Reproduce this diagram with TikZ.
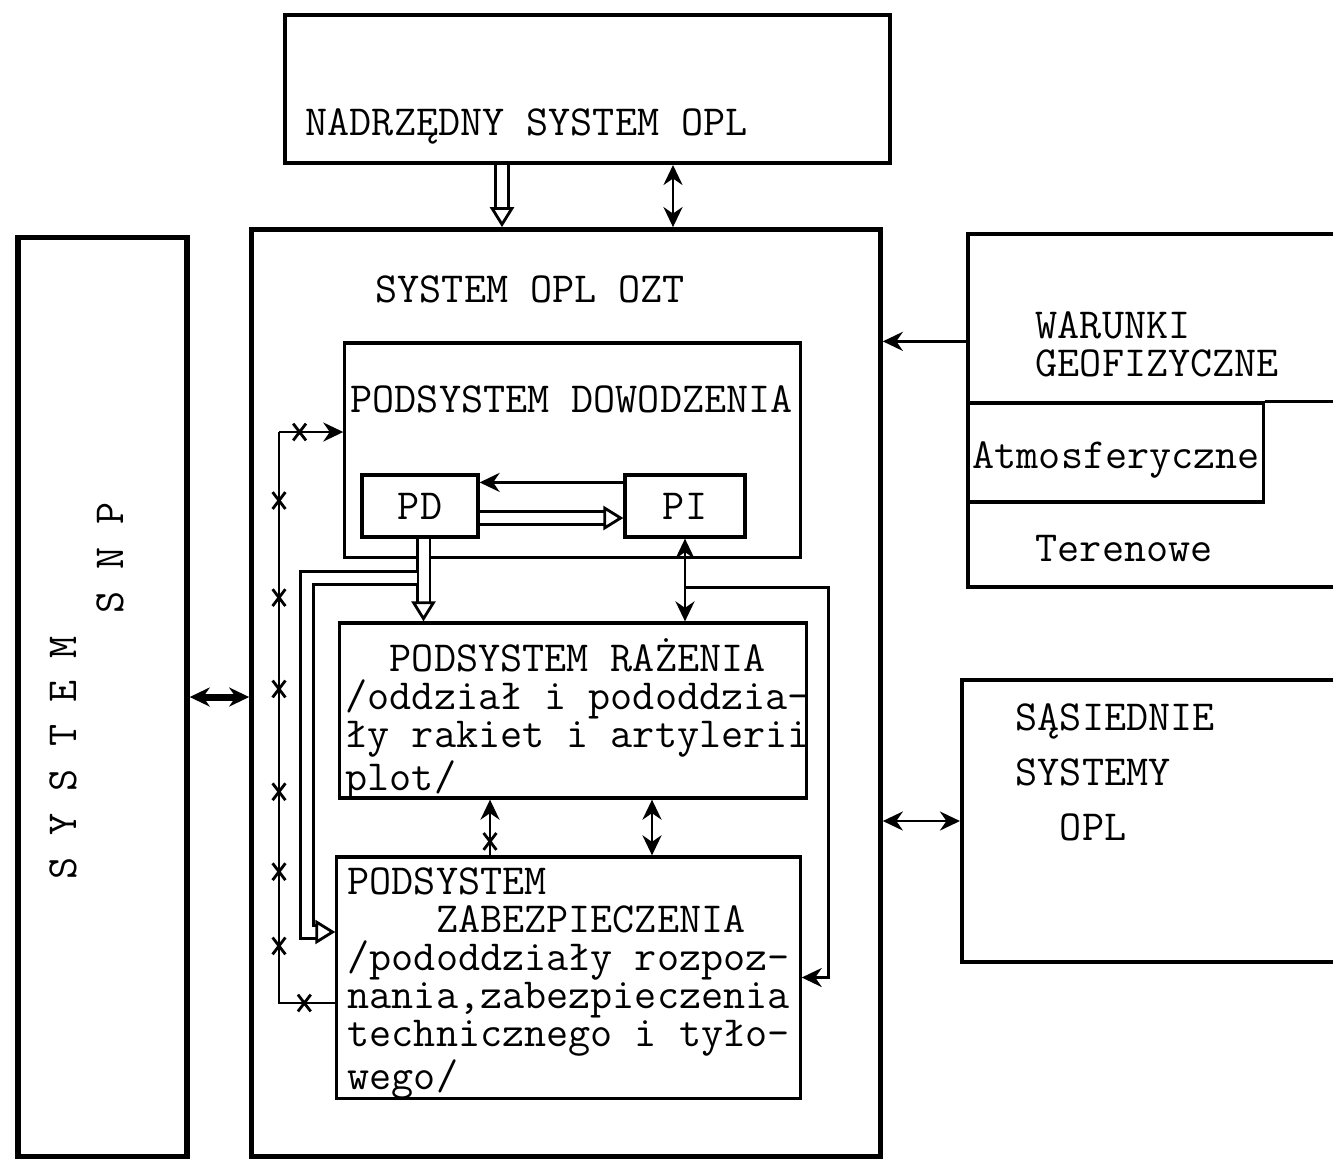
\documentclass[tikz,border=0pt]{standalone}
\usepackage{fontspec}
\usetikzlibrary{arrows.meta,shapes.misc,calc}

\begin{document}
\begin{tikzpicture}[x=0.01cm,y=-0.01cm]
  \tikzset{box/.style={draw,line width=1.1pt,inner sep=0pt,
      font=\ttfamily\fontsize{12.2}{10.8}\selectfont},
    bigbox/.style={box,line width=1.5pt},
    subbox/.style={box,line width=0.9pt},
    txt/.style={font=\ttfamily\fontsize{12.2}{10.8}\selectfont,inner sep=0pt,anchor=base west},
    para/.style={txt,anchor=north west,align=left},
    link/.style={draw,line width=0.8pt},
    tip/.style={link,-{Stealth[length=2mm,width=1.9mm]}},
    tips/.style={link,{Stealth[length=2mm,width=1.9mm]}-{Stealth[length=2mm,width=1.9mm]}},
    hollow/.style={draw,double,double distance=1mm,line width=0.8pt,
      -{Triangle[open,length=2mm,width=2.4mm]}},
    xcr/.style={cross out,draw,line width=0.8pt,minimum width=1mm,minimum height=1.4mm,inner sep=0pt}}
  \useasboundingbox (0,0) rectangle (1333,1159);

  \node[box,minimum width=6.05cm,minimum height=1.48cm] (nadr) at (587.5,89) {};
  \node[bigbox,minimum width=1.69cm,minimum height=9.18cm] (snp) at (102.5,697) {};
  \node[bigbox,minimum width=6.28cm,minimum height=9.26cm] (ozt) at (566,693) {};
  \node[subbox,minimum width=4.55cm,minimum height=2.14cm] (dow) at (572.5,450) {};
  \node[subbox,minimum width=1.16cm,minimum height=0.62cm] (pd) at (420,506) {PD};
  \node[subbox,minimum width=1.2cm,minimum height=0.62cm] (pi) at (685,506) {PI};
  \node[subbox,minimum width=4.66cm,minimum height=1.75cm] (raz) at (573,710.5) {};
  \node[subbox,minimum width=4.63cm,minimum height=2.41cm] (zab) at (568.5,977.5) {};
  \node[box,minimum width=3.77cm,minimum height=3.53cm] (war) at (1156.5,410.5) {};
  \node[subbox,minimum width=2.95cm,minimum height=0.99cm] (atm) at (1115.5,452.5) {};
  \node[box,minimum width=3.83cm,minimum height=2.82cm] (sas) at (1153.5,821) {};
  \draw[subbox] (atm.north east) -- (atm.north east -| war.east);

  \node[txt] (nadrt) at (305,135) {NADRZĘDNY SYSTEM OPL};
  \node[txt] (oztt) at (375,302) {SYSTEM OPL OZT};
  \node[txt] (dowt) at (350,412) {PODSYSTEM DOWODZENIA};
  \node[para] (razt) at (345,638) {\phantom{PO}PODSYSTEM RAŻENIA\\/oddział i pododdzia-\\ły rakiet i artylerii\\plot/};
  \node[para] (zabt) at (347,867) {PODSYSTEM\\\phantom{PODS}ZABEZPIECZENIA\\/pododdziały rozpoz-\\nania,zabezpieczenia\\technicznego i tyło-\\wego/};
  \node[para] (wart) at (1035,311) {WARUNKI\\GEOFIZYCZNE};
  \node[txt] (atmt) at (972,468) {Atmosferyczne};
  \node[txt] (tert) at (1035,561) {Terenowe};
  \node[para] (sast) at (1015,703) {SĄSIEDNIE\\[0.17cm]SYSTEMY\\[0.17cm]\phantom{SY}OPL};
  \node[txt,anchor=center,rotate=90] (snpa) at (63,758) {S Y S T E M};
  \node[txt,anchor=center,rotate=90] (snpb) at (110,558) {S N P};

  \coordinate (xin) at (502,0);
  \coordinate (xbi) at (673,0);
  \coordinate (xpd) at (423.5,578);
  \coordinate (xleft) at (490,0);
  \coordinate (xright) at (652,0);
  \coordinate (ltop) at (279,432);
  \coordinate (lbot) at (279,1003);

  \draw[hollow] (nadr.south -| xin) -- (ozt.north -| xin);
  \draw[tips] (nadr.south -| xbi) -- (ozt.north -| xbi);
  \draw[tip] (war.west |- dow.north) -- (ozt.east |- dow.north);
  \draw[tips] (sas.west) -- (sas.west -| ozt.east);
  \draw[tips,line width=2pt] (snp.east) -- (snp.east -| ozt.west);

  \draw[tip] ([yshift=-0.09cm]pi.north west) -- ([yshift=-0.09cm]pi.north west -| pd.east);
  \draw[hollow] ([yshift=-0.12cm]pd.east) -- ([yshift=-0.12cm]pd.east -| pi.west);
  \draw[hollow] (pd.south -| xpd) -- (raz.north -| xpd);
  \draw[hollow] ([xshift=-0.065cm]xpd) -| ([xshift=-0.285cm,yshift=0.455cm]zab.west) -- ([yshift=0.455cm]zab.west);
  \draw[tips] (pi.south) -- (pi.south |- raz.north);
  \draw[tip] ([yshift=-0.49cm]pi.south) -| ([xshift=0.27cm]zab.east) -- (zab.east);

  \draw[tips] (raz.south -| xright) -- (zab.north -| xright);
  \draw[link,{Stealth[length=2mm,width=1.9mm]}-] (raz.south -| xleft) -- (zab.north -| xleft);
  \node[xcr] (xm) at ($(raz.south -| xleft)!0.75!(zab.north -| xleft)$) {};

  \draw[tip] (ltop) -- (ltop -| dow.west);
  \draw[link] (ltop) -- (lbot) -- (lbot -| zab.west);
  \node[xcr] (xt) at ($(ltop)!0.32!(ltop -| dow.west)$) {};
  \node[xcr] (xb) at ($(lbot)!0.45!(lbot -| zab.west)$) {};
  \foreach \p [count=\i] in {0.12,0.29,0.45,0.63,0.77,0.9}
    \node[xcr] (x\i) at ($(ltop)!\p!(lbot)$) {};
\end{tikzpicture}
\end{document}
